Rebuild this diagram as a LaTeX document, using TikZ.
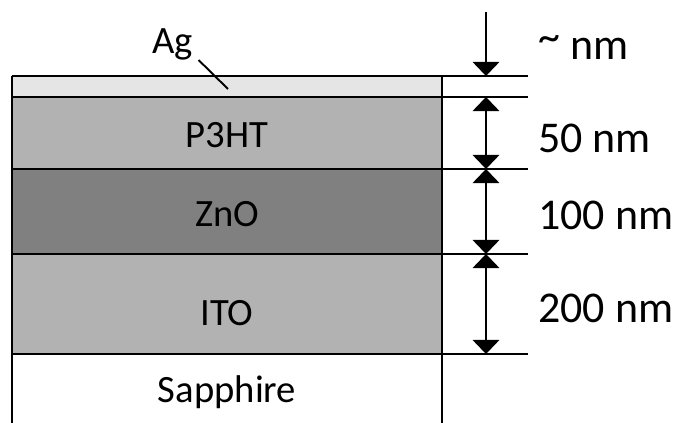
\documentclass[tikz,border=0pt]{standalone}
\usepackage{fontspec}
\setmainfont{Carlito}
\usetikzlibrary{arrows.meta}
\definecolor{agfill}{gray}{0.90}
\definecolor{p3htfill}{gray}{0.70}
\definecolor{znofill}{gray}{0.50}
\definecolor{itofill}{gray}{0.70}
\tikzset{
  >={Triangle[width=15pt,length=8pt]},
  layerline/.style={line width=1.4pt},
  edgeline/.style={line width=1.1pt},
  dimarrow/.style={line width=1.4pt},
  layertext/.style={font=\fontsize{22}{26}\selectfont, anchor=base, inner sep=0pt},
  dimtext/.style={font=\fontsize{25}{30}\selectfont, anchor=base west, inner sep=0pt},
}
\begin{document}
\begin{tikzpicture}[x=0.02cm,y=-0.02cm]
\useasboundingbox (0,0) rectangle (681,423);
% layers
\fill[agfill] (12,76) rectangle (442,97);
\fill[p3htfill] (12,97) rectangle (442,169);
\fill[znofill] (12,169) rectangle (442,254);
\fill[itofill] (12,254) rectangle (442,354);
\foreach \y in {76,97,169,254,354}
  \draw[layerline] (12,\y) -- (528,\y);
\draw[edgeline] (12,76) -- (12,430);
\draw[edgeline] (442,76) -- (442,430);
% labels
\node[layertext] (lblp3ht) at (227,147) {P3HT};
\node[layertext] (lblzno) at (227,226) {ZnO};
\node[layertext] (lblito) at (227,325) {ITO};
\node[layertext] (lblsapphire) at (227,402) {Sapphire};
\node[layertext, anchor=base west] (lblag) at (152,53) {Ag};
\coordinate (agpt) at (228,89);
\draw[line width=1.1pt] ([xshift=3pt]lblag.south east) -- (agpt);
% thicknesses
\coordinate (d0) at (486,12);
\coordinate (d1) at (486,76);
\coordinate (d2) at (486,97);
\coordinate (d3) at (486,169);
\coordinate (d4) at (486,254);
\coordinate (d5) at (486,354);
\draw[dimarrow,->] (d0) -- (d1);
\draw[dimarrow,<->] (d2) -- (d3);
\draw[dimarrow,<->] (d3) -- (d4);
\draw[dimarrow,<->] (d4) -- (d5);
\node[dimtext] (lblag nm) at (538,59) {\raisebox{4pt}{\textasciitilde}{} nm};
\node[dimtext] (lblp3ht nm) at (538,152) {50 nm};
\node[dimtext] (lblzno nm) at (538,229) {100 nm};
\node[dimtext] (lblito nm) at (538,322) {200 nm};
\end{tikzpicture}
\end{document}
